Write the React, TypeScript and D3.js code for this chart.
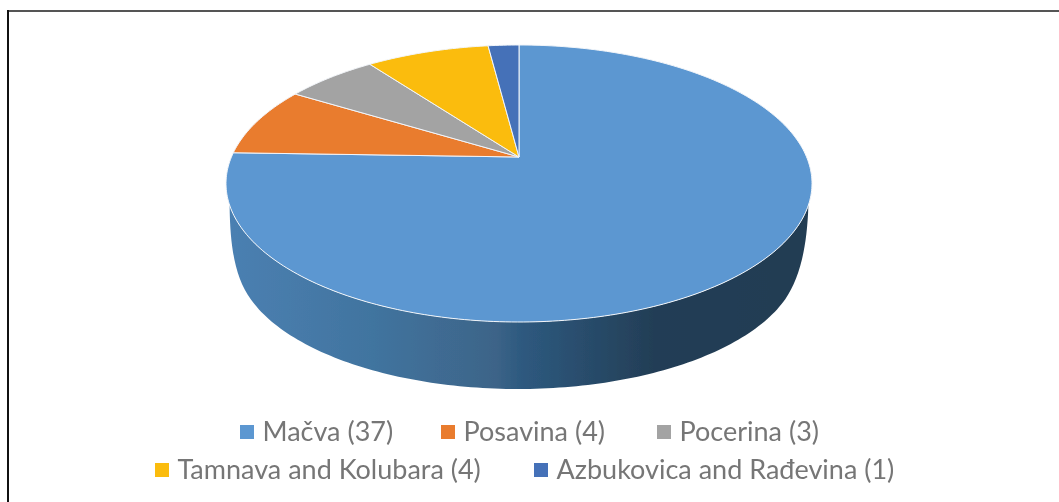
import React, { useEffect, useRef } from 'react';
import * as d3 from 'd3';

const categories = ['Mačva', 'Posavina', 'Pocerina', 'Tamnava and Kolubara', 'Azbukovica and Rađevina'];
const values = [37, 4, 3, 4, 1];
const colors = ['#5b97d1', '#e97b2f', '#a3a3a3', '#fbbc09', '#4471b8'];
const legendRows = [[0, 1, 2], [3, 4]];
const legendX = [[240, 441, 657], [155, 534]];
const sideStops = [
  ['0%', '#4b80b2'], ['25%', '#41749f'], ['46%', '#3d6488'], ['50%', '#2e5a80'],
  ['73%', '#233e56'], ['100%', '#223c52'],
];

const W = 1059;
const H = 502;

// top ellipse of the disc
const cx = 519;
const cy = 183.5;
const rx = 293;
const ry = 138.5;
// the apex sits above the ellipse centre because of the 3d perspective
const apexY = 157;
const k = (cy - apexY) / ry;

// unit circle -> screen, perspective
function project(angle: number, r = 1): [number, number] {
  const u = r * Math.sin(angle);
  const v = -r * Math.cos(angle);
  const w = 1 - k * v;
  return [cx + (rx * Math.sqrt(1 - k * k) * u) / w, cy + (ry * v - ry * k) / w];
}

export default function App() {
  const ref = useRef<SVGSVGElement>(null);

  useEffect(() => {
    const svg = d3.select(ref.current);
    svg.selectAll('*').remove();

    svg.append('rect').attr('width', W).attr('height', H).attr('fill', '#fff');

    // frame, only top and left are in the crop
    svg.append('line').attr('x1', 8).attr('x2', W).attr('y1', 11).attr('y2', 11)
      .attr('stroke', '#555').attr('stroke-width', 2);
    svg.append('line').attr('x1', 8).attr('x2', 8).attr('y1', 10).attr('y2', H)
      .attr('stroke', '#111').attr('stroke-width', 2);

    const defs = svg.append('defs');
    const grad = defs.append('linearGradient').attr('id', 'side')
      .attr('gradientUnits', 'userSpaceOnUse')
      .attr('x1', cx - rx).attr('x2', cx + rx).attr('y1', 0).attr('y2', 0);
    sideStops.forEach(([o, c]) => grad.append('stop').attr('offset', o).attr('stop-color', c));
    defs.append('filter').attr('id', 'soft')
      .append('feGaussianBlur').attr('stdDeviation', 0.45);

    const chart = svg.append('g').attr('filter', 'url(#soft)');

    // side wall: front of the top ellipse, smooth shoulder, lower ellipse, shoulder back
    const bottomCx = 518;
    const bottomRx = 281;
    const bottomRy = 130;
    const bottomCy = 389 - bottomRy;
    const line = d3.line<[number, number]>();
    const steps = d3.range(0, 1.0001, 1 / 120);
    const front: [number, number][] = steps.map((t) => {
      const a = d3.interpolate(Math.PI * 0.05, Math.PI * 0.95)(t);
      return [cx + rx * Math.cos(a), cy + ry * Math.sin(a)];
    });
    const bottom: [number, number][] = steps.map((t) => {
      const a = d3.interpolate(Math.PI * 0.9, Math.PI * 0.1)(t);
      return [bottomCx + bottomRx * Math.cos(a), bottomCy + bottomRy * Math.sin(a)];
    });
    const wall = d3.path();
    front.forEach(([x, y], i) => (i ? wall.lineTo(x, y) : wall.moveTo(x, y)));
    const [lx, ly] = bottom[0];
    wall.bezierCurveTo(230, 250, 236, 279, lx, ly);
    bottom.forEach(([x, y]) => wall.lineTo(x, y));
    wall.bezierCurveTo(799, 279, 807, 250, front[0][0], front[0][1]);
    wall.closePath();
    chart.append('path')
      .attr('d', wall.toString())
      .attr('fill', 'url(#side)');

    // slices from d3.pie, each arc bent through the perspective projection
    const pie = d3.pie<number>().sort(null);
    const arcs = pie(values);
    arcs.forEach((d, i) => {
      const n = Math.max(4, Math.ceil((d.endAngle - d.startAngle) * 60));
      const pts = d3.range(n + 1).map((j) =>
        project(d.startAngle + ((d.endAngle - d.startAngle) * j) / n));
      chart.append('path')
        .attr('d', line([project(0, 0), ...pts])! + 'Z')
        .attr('fill', colors[i])
        .attr('stroke', '#f2f5f9')
        .attr('stroke-width', 1)
        .attr('stroke-linejoin', 'round');
    });

    // legend
    const g = svg.append('g').attr('font-family', 'Lato, "Open Sans", sans-serif')
      .attr('font-size', 27).attr('fill', '#767676').attr('filter', 'url(#soft)');
    legendRows.forEach((row, r) => {
      const base = 441 + r * 38;
      row.forEach((idx, j) => {
        g.append('rect')
          .attr('x', legendX[r][j]).attr('y', base - 16)
          .attr('width', 14).attr('height', 14)
          .attr('fill', colors[idx]);
        g.append('text')
          .attr('x', legendX[r][j] + 22.5).attr('y', base)
          .text(`${categories[idx]} (${values[idx]})`);
      });
    });
  }, []);

  return (
    <svg ref={ref} width={W} height={H}
      style={{ position: 'absolute', left: 0, top: 0, display: 'block' }} />
  );
}
